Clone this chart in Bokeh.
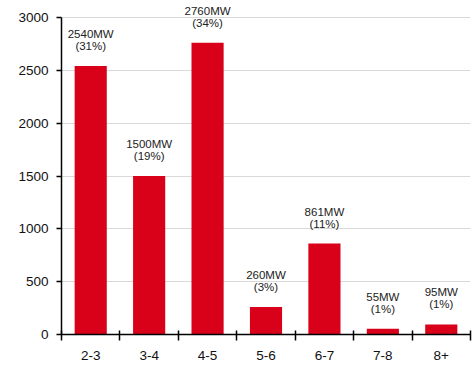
from bokeh.plotting import figure
from bokeh.models import ColumnDataSource, FixedTicker, LabelSet, Range1d
from bokeh.core.properties import value
from bokeh.embed import file_html
from bokeh.resources import INLINE

# Installed capacity by turbine size class (MW)
categories = ["2-3", "3-4", "4-5", "5-6", "6-7", "7-8", "8+"]
capacity_mw = [2540, 1500, 2760, 260, 861, 55, 95]
share_pct = [31, 19, 34, 3, 11, 1, 1]
y_ticks = [0, 500, 1000, 1500, 2000, 2500, 3000]

RED = "#D9001A"
FONT = "Liberation Sans"

x_pos = [i + 0.5 for i in range(len(categories))]
src = ColumnDataSource(dict(
    x=x_pos,
    top=capacity_mw,
    mw=[f"{v}MW" for v in capacity_mw],
    pct=[f"({s}%)" for s in share_pct],
))

p = figure(width=475, height=371, output_backend="svg", toolbar_location=None,
           x_range=Range1d(0, len(categories)), y_range=Range1d(0, 3142))
p.min_border_left = 61
p.min_border_right = 5
p.min_border_top = 2
p.min_border_bottom = 37
p.outline_line_color = None
p.background_fill_color = "white"
p.border_fill_color = "white"

p.vbar(x="x", top="top", width=0.55, source=src, color=RED, line_color=None)

# two-line value labels above each bar
for field, off in (("mw", 28), ("pct", 16)):
    p.add_layout(LabelSet(x="x", y="top", text=field, source=src,
                          text_align="center", text_baseline="alphabetic",
                          y_offset=off, text_font=value(FONT),
                          text_font_size="11.5px", text_color="#222222"))

# y axis, drawn only up to 3000
p.yaxis.ticker = FixedTicker(ticks=y_ticks)
p.yaxis.bounds = (0, 3000)
p.yaxis.axis_line_color = "black"
p.yaxis.axis_line_width = 1.5
p.yaxis.major_tick_in = 0
p.yaxis.major_tick_out = 5
p.yaxis.major_tick_line_width = 1.5
p.yaxis.minor_tick_line_color = None
p.yaxis.major_label_text_font = FONT
p.yaxis.major_label_text_font_size = "13.5px"
p.yaxis.major_label_text_color = "#111111"
p.yaxis.major_label_standoff = 8

# x axis: labels at bar centres, tick marks at class boundaries
p.xaxis.ticker = FixedTicker(ticks=x_pos, minor_ticks=list(range(len(categories) + 1)))
p.xaxis.major_label_overrides = {x: c for x, c in zip(x_pos, categories)}
p.xaxis.major_tick_line_color = None
p.xaxis.minor_tick_in = 4
p.xaxis.minor_tick_out = 6
p.xaxis.minor_tick_line_width = 1.5
p.xaxis.minor_tick_line_color = "black"
p.xaxis.axis_line_color = "black"
p.xaxis.axis_line_width = 1.5
p.xaxis.major_label_text_font = FONT
p.xaxis.major_label_text_font_size = "13.5px"
p.xaxis.major_label_text_color = "#111111"
p.xaxis.major_label_standoff = 10

p.xgrid.grid_line_color = None
p.ygrid.ticker = FixedTicker(ticks=y_ticks[1:])
p.ygrid.grid_line_color = "#D9D9D9"
p.ygrid.grid_line_width = 1

open("out.html", "w").write(file_html(p, INLINE))
